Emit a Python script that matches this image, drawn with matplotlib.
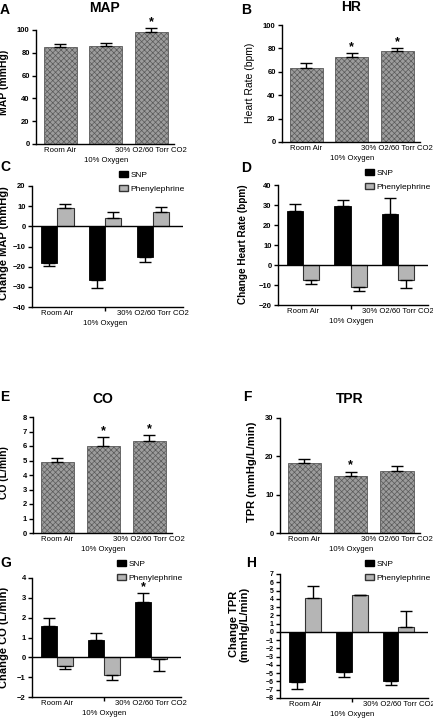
import numpy as np
import matplotlib
matplotlib.use('Agg')
import matplotlib.pyplot as plt
from matplotlib.patches import Patch

plt.rcParams['font.family'] = ['Liberation Sans', 'DejaVu Sans']
plt.rcParams['hatch.linewidth'] = 0.5

W, H = 433, 718

# x tick labels: the middle one is drawn a line lower
conditions = ['Room Air', '10% Oxygen', '30% O2/60 Torr CO2']

# baseline values (mean, SEM, significance)
map_mean = [84.8, 85.7, 98.5]
map_err = [2.6, 2.6, 3.3]
map_sig = [False, False, True]

hr_mean = [63.5, 72.4, 77.8]
hr_err = [3.7, 3.4, 2.8]
hr_sig = [False, True, True]

co_mean = [4.88, 6.02, 6.34]
co_err = [0.32, 0.58, 0.40]
co_sig = [False, True, True]

tpr_mean = [18.2, 15.0, 16.3]
tpr_err = [1.1, 1.0, 1.2]
tpr_sig = [False, True, False]

# responses to SNP / phenylephrine
dmap_snp = [-18.0, -26.8, -15.1]
dmap_snp_err = [1.8, 4.0, 2.8]
dmap_phe = [9.0, 4.1, 6.9]
dmap_phe_err = [2.3, 2.8, 2.9]

dhr_snp = [27.2, 29.3, 25.7]
dhr_snp_err = [3.2, 3.3, 7.6]
dhr_phe = [-7.6, -10.8, -7.6]
dhr_phe_err = [1.9, 2.0, 3.8]

dco_snp = [1.58, 0.86, 2.78]
dco_snp_err = [0.40, 0.38, 0.45]
dco_phe = [-0.43, -0.91, -0.07]
dco_phe_err = [0.16, 0.23, 0.60]
dco_sig = [False, False, True]

dtpr_snp = [-6.1, -4.9, -6.0]
dtpr_snp_err = [0.8, 0.6, 0.4]
dtpr_phe = [4.1, 4.4, 0.6]
dtpr_phe_err = [1.5, 0.1, 1.9]

fig = plt.figure(figsize=(W / 100, H / 100), dpi=100)


def make_axes(l, r, t, b, xlim, ylim, yticks):
    ax = fig.add_axes([l / W, 1 - b / H, (r - l) / W, (b - t) / H])
    ax.set_xlim(*xlim)
    ax.set_ylim(*ylim)
    ax.set_yticks(yticks)
    for s in ['top', 'right']:
        ax.spines[s].set_visible(False)
    for s in ['left', 'bottom']:
        ax.spines[s].set_linewidth(1.0)
    ax.tick_params(axis='y', direction='out', length=3, width=1, labelsize=5.5, pad=1.5)
    for lab in ax.get_yticklabels():
        lab.set_fontweight('bold')
    # outer labels as ticks, middle label one line lower
    ax.set_xticks([0, 2])
    ax.set_xticklabels([conditions[0], conditions[2]], fontsize=5.6)
    ax.tick_params(axis='x', which='major', length=0, pad=2)
    ax.annotate(conditions[1], xy=(1, 0), xycoords=ax.get_xaxis_transform(),
                xytext=(0, -9.5), textcoords='offset points', ha='center',
                va='top', fontsize=5.6)
    ax._px = (l, r, t, b)
    return ax


def ylabel(ax, text, px, py, size=8, weight='bold'):
    l, r, t, b = ax._px
    ax.set_ylabel(text, fontsize=size, fontweight=weight, linespacing=1.0)
    ax.yaxis.set_label_coords((px - l) / (r - l), (b - py) / (b - t))


def single_panel(ax, mean, err, sig):
    x = np.arange(len(mean))
    ax.bar(x, mean, width=0.72, color='#9c9c9c', edgecolor='#5a5a5a',
           linewidth=0.6, hatch='xxxxxx', zorder=2)
    ax.errorbar(x, mean, yerr=[np.zeros(len(err)), err], fmt='none',
                ecolor='black', elinewidth=1.0, capsize=4.5, capthick=1.0,
                clip_on=False, zorder=3)
    for xi, m, e, s in zip(x, mean, err, sig):
        if s:
            ax.text(xi, m + e, '*', ha='center', va='bottom', fontsize=9,
                    fontweight='bold')


def one_sided(vals, errs):
    lower = [e if v < 0 else 0 for v, e in zip(vals, errs)]
    upper = [e if v >= 0 else 0 for v, e in zip(vals, errs)]
    return [lower, upper]


def group_panel(ax, snp, snp_err, phe, phe_err, sig=None):
    x = np.arange(len(snp))
    w = 0.34
    ax.axhline(0, color='black', lw=1.0, zorder=4)
    ax.bar(x - w / 2, snp, width=w, color='black', edgecolor='black',
           linewidth=0.6, zorder=2)
    ax.bar(x + w / 2, phe, width=w, color='#b5b5b5', edgecolor='#333333',
           linewidth=0.8, zorder=2)
    ax.errorbar(x - w / 2, snp, yerr=one_sided(snp, snp_err), fmt='none',
                ecolor='black', elinewidth=1.0, capsize=4.0, capthick=1.0,
                clip_on=False, zorder=3)
    ax.errorbar(x + w / 2, phe, yerr=one_sided(phe, phe_err), fmt='none',
                ecolor='black', elinewidth=1.0, capsize=4.0, capthick=1.0,
                clip_on=False, zorder=3)
    if sig is not None:
        for xi, m, e, s in zip(x - w / 2, snp, snp_err, sig):
            if s:
                ax.text(xi, m + e, '*', ha='center', va='bottom', fontsize=9,
                        fontweight='bold')


def legend(ax, lx, ty):
    handles = [Patch(facecolor='black', edgecolor='black'),
               Patch(facecolor='#b5b5b5', edgecolor='#333333')]
    ax.legend(handles, ['SNP', 'Phenylephrine'], loc='upper left',
              bbox_to_anchor=(lx / W, 1 - ty / H), bbox_transform=fig.transFigure,
              frameon=False, fontsize=6, handlelength=1.1, handleheight=0.7,
              handletextpad=0.3, labelspacing=0.75, borderaxespad=0, borderpad=0)


def minor_marks(ax, pos):
    ax.set_xticks(pos, minor=True)
    ax.tick_params(axis='x', which='minor', length=3, width=1, direction='out')


def letter(px, py, s):
    fig.text(px / W, 1 - py / H, s, fontsize=10, fontweight='bold',
             ha='left', va='center')


single_xlim = (-0.53, 2.5)
group_xlim = (-0.53, 2.63)

# A  MAP
axA = make_axes(36, 174, 30, 144, single_xlim, (0, 100), np.arange(0, 101, 20))
single_panel(axA, map_mean, map_err, map_sig)
ylabel(axA, 'MAP (mmHg)', 9, 82, size=7.5)
axA.set_title('MAP', fontsize=10, fontweight='bold', pad=13)
letter(0, 10, 'A')

# B  HR
axB = make_axes(282, 420, 25, 142, single_xlim, (0, 100), np.arange(0, 101, 20))
single_panel(axB, hr_mean, hr_err, hr_sig)
ylabel(axB, 'Heart Rate (bpm)', 255, 83, size=7.5, weight='normal')
axB.set_title('HR', fontsize=10, fontweight='bold', pad=10)
letter(241, 10, 'B')

# C  change MAP
axC = make_axes(32, 183, 186, 307, group_xlim, (-40, 20), np.arange(-40, 21, 10))
group_panel(axC, dmap_snp, dmap_snp_err, dmap_phe, dmap_phe_err)
ylabel(axC, 'Change MAP (mmHg)', 9, 243, size=8)
minor_marks(axC, [1, 2])
legend(axC, 119, 171)
letter(0, 167, 'C')

# D  change HR
axD = make_axes(278, 428, 185, 305, group_xlim, (-20, 40), np.arange(-20, 41, 10))
group_panel(axD, dhr_snp, dhr_snp_err, dhr_phe, dhr_phe_err)
ylabel(axD, 'Change Heart Rate (bpm)', 248, 244, size=7.2)
minor_marks(axD, [0, 1])
legend(axD, 365, 169)
letter(241, 168, 'D')

# E  CO
axE = make_axes(33, 172, 417, 533, single_xlim, (0, 8), np.arange(0, 9, 1))
single_panel(axE, co_mean, co_err, co_sig)
ylabel(axE, 'CO (L/min)', 9, 473, size=7.5)
axE.set_title('CO', fontsize=10, fontweight='bold', pad=10)
letter(0, 397, 'E')

# F  TPR
axF = make_axes(280, 420, 418, 533, single_xlim, (0, 30), np.arange(0, 31, 10))
single_panel(axF, tpr_mean, tpr_err, tpr_sig)
ylabel(axF, 'TPR (mmHg/L/min)', 257, 472, size=8)
axF.set_title('TPR', fontsize=10, fontweight='bold', pad=11)
letter(243, 397, 'F')

# G  change CO
axG = make_axes(32, 181, 578, 697, group_xlim, (-2, 4), np.arange(-2, 5, 1))
group_panel(axG, dco_snp, dco_snp_err, dco_phe, dco_phe_err, dco_sig)
ylabel(axG, 'Change CO (L/min)', 9, 637, size=8)
minor_marks(axG, [1, 2])
legend(axG, 117, 560)
letter(0, 563, 'G')

# H  change TPR
axH = make_axes(280, 428, 574, 698, group_xlim, (-8, 7), np.arange(-8, 8, 1))
axH.tick_params(axis='y', labelsize=5)
group_panel(axH, dtpr_snp, dtpr_snp_err, dtpr_phe, dtpr_phe_err)
ylabel(axH, 'Change TPR\n(mmHg/L/min)', 249, 624, size=8)
minor_marks(axH, [0, 1])
legend(axH, 365, 560)
letter(246, 563, 'H')

fig.savefig('out.png', dpi=100)
